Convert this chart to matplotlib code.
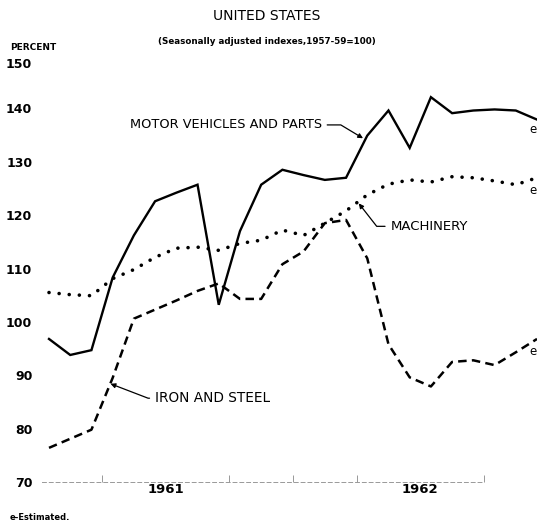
import matplotlib
matplotlib.use("Agg")
import matplotlib.pyplot as plt
from matplotlib.transforms import ScaledTranslation

# monthly indexes, Jan 1961 - Dec 1962 (1957-59=100)
months = list(range(24))
motor_vehicles = [96.8, 93.8, 94.7, 108.3, 116.2, 122.6, 124.2, 125.7, 103.2, 117.0, 125.7, 128.5,
                  127.5, 126.6, 127.0, 134.9, 139.6, 132.6, 142.1, 139.1, 139.6, 139.8, 139.6, 137.9]
machinery = [105.5, 105.1, 104.9, 108.1, 109.8, 112.1, 113.8, 114.0, 113.4, 114.7, 115.3, 117.2,
             116.2, 118.5, 120.8, 123.8, 125.8, 126.6, 126.2, 127.2, 127.0, 126.4, 125.7, 127.0]
iron_steel = [76.4, 78.1, 79.8, 89.5, 100.6, 102.3, 104.0, 105.8, 107.2, 104.3, 104.3, 110.8,
              113.2, 118.5, 119.1, 111.9, 95.8, 89.6, 87.9, 92.5, 92.8, 91.9, 94.3, 96.8]

y_ticks = [70, 80, 90, 100, 110, 120, 130, 140, 150]
quarter_ticks = [2.5, 5.5, 8.5, 11.5, 14.5, 17.5, 20.5]
year_pos = [5.5, 17.5]
year_labels = ["1961", "1962"]

plt.rcParams["font.family"] = "DejaVu Sans"

fig = plt.figure(figsize=(5.37, 5.24), dpi=100)
ax = fig.add_axes([42 / 537, 42 / 524, 1 - 42 / 537, 427 / 524])

ax.plot(months, motor_vehicles, color="black", lw=1.7, solid_joinstyle="miter", clip_on=False)
ax.plot(months, machinery, color="black", lw=2.6, linestyle=(0, (0.01, 2.8)),
        dash_capstyle="round", clip_on=False)
ax.plot(months, iron_steel, color="black", lw=1.8, linestyle=(0, (3.4, 2.1)), clip_on=False)

ax.set_xlim(-0.33, 23.0)
ax.set_ylim(70, 150)

ax.set_yticks(y_ticks)
ax.set_yticklabels([str(v) for v in y_ticks], fontsize=9, fontweight="bold")
ax.tick_params(axis="y", length=0, pad=7)
# top label sits a bit lower, under "PERCENT"
top_label = ax.get_yticklabels()[-1]
top_label.set_transform(top_label.get_transform() + ScaledTranslation(0, -6 / 72, fig.dpi_scale_trans))

ax.set_xticks(quarter_ticks, minor=True)
ax.set_xticks(year_pos)
ax.set_xticklabels(year_labels, fontsize=9.5, fontweight="bold")
ax.tick_params(axis="x", which="major", length=0, pad=1)
ax.tick_params(axis="x", which="minor", direction="in", length=5, width=0.6, color="#888888")

for s in ["top", "right", "left"]:
    ax.spines[s].set_visible(False)
ax.spines["bottom"].set_color("#999999")
ax.spines["bottom"].set_linewidth(0.7)
ax.spines["bottom"].set_linestyle((0, (4, 3)))
ax.spines["bottom"].set_bounds(-0.33, 20.5)

arrow = dict(arrowstyle="-|>", color="black", lw=0.9, mutation_scale=7, shrinkA=2, shrinkB=0)

ax.annotate("MOTOR VEHICLES AND PARTS", xy=(14.8, 134.4), xytext=(12.85, 136.9),
            ha="right", va="center", fontsize=9.3,
            arrowprops=dict(arrow, relpos=(1, 0.5),
                            connectionstyle="angle,angleA=0,angleB=-31,rad=0"))
ax.annotate("MACHINERY", xy=(14.6, 122.2), xytext=(16.1, 117.9),
            ha="left", va="center", fontsize=9.5,
            arrowprops=dict(arrow, relpos=(0, 0.5),
                            connectionstyle="angle,angleA=0,angleB=128,rad=0"))
ax.annotate("IRON AND STEEL", xy=(2.9, 88.4), xytext=(5.0, 85.7),
            ha="left", va="center", fontsize=9.8,
            arrowprops=dict(arrow, relpos=(0, 0.5),
                            connectionstyle="angle,angleA=0,angleB=-21,rad=0"))

for series, dy in [(motor_vehicles, -7), (machinery, -9), (iron_steel, -9)]:
    ax.annotate("e", xy=(months[-1], series[-1]), xytext=(-3, dy), textcoords="offset points",
                ha="center", va="center", fontsize=8.5, annotation_clip=False)

fig.text(267 / 537, 1 - 16 / 524, "UNITED STATES", ha="center", va="center", fontsize=10)
fig.text(267 / 537, 1 - 42 / 524, "(Seasonally adjusted indexes,1957-59=100)",
         ha="center", va="center", fontsize=6.3, fontweight="bold")
fig.text(10 / 537, 1 - 47 / 524, "PERCENT", ha="left", va="center", fontsize=6.5,
         fontweight="bold")
fig.text(10 / 537, 1 - 517 / 524, "e-Estimated.", ha="left", va="center", fontsize=6,
         fontweight="bold")

fig.savefig("out.png", dpi=100)
